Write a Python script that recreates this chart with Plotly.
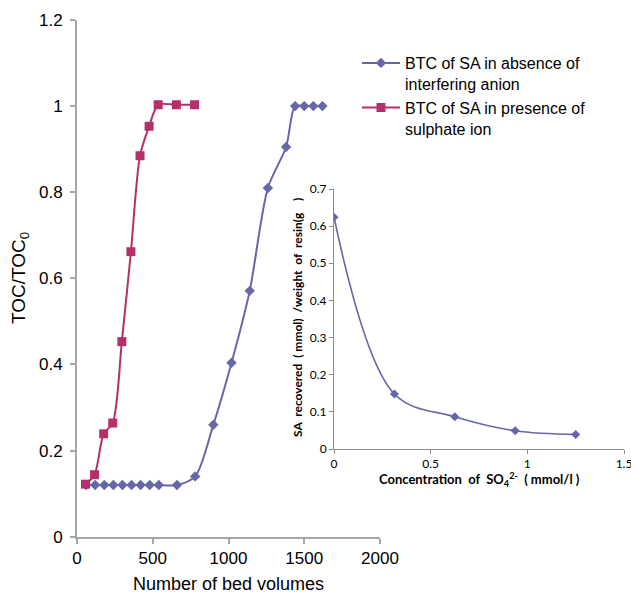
import plotly.graph_objects as go

W, H = 631, 594

# Main chart data
bv_absence = [60, 120, 180, 240, 300, 360, 420, 480, 540, 660, 780, 900, 1020, 1140, 1260, 1380, 1440, 1500, 1560, 1620]
toc_absence = [0.12, 0.12, 0.12, 0.12, 0.12, 0.12, 0.12, 0.12, 0.12, 0.12, 0.14, 0.26, 0.404, 0.571, 0.81, 0.905, 1.0, 1.0, 1.0, 1.0]
bv_presence = [56, 116, 176, 236, 296, 356, 416, 476, 536, 656, 776]
toc_presence = [0.122, 0.144, 0.239, 0.264, 0.453, 0.662, 0.885, 0.953, 1.003, 1.003, 1.003]

# Inset data
conc_so4 = [0, 0.3125, 0.625, 0.9375, 1.25]
sa_recovered = [0.624, 0.148, 0.087, 0.049, 0.039]

PURPLE = "#6667A8"
RED = "#B5306A"
AXIS_GREY = "#A6A6A6"

fig = go.Figure()
fig.add_trace(go.Scatter(
    x=bv_absence, y=toc_absence, mode="lines+markers",
    name="BTC of SA in absence of<br>interfering anion",
    line=dict(color=PURPLE, width=2, shape="spline", smoothing=0.8),
    marker=dict(symbol="diamond", size=8, color=PURPLE),
    xaxis="x", yaxis="y"))
fig.add_trace(go.Scatter(
    x=bv_presence, y=toc_presence, mode="lines+markers",
    name="BTC of SA in presence of<br>sulphate ion",
    line=dict(color=RED, width=2, shape="spline", smoothing=0.8),
    marker=dict(symbol="square", size=9, color=RED),
    xaxis="x", yaxis="y"))
fig.add_trace(go.Scatter(
    x=conc_so4, y=sa_recovered, mode="lines+markers", showlegend=False,
    line=dict(color=PURPLE, width=1.6, shape="spline", smoothing=1),
    marker=dict(symbol="diamond", size=7, color=PURPLE),
    xaxis="x2", yaxis="y2"))

main_font = dict(family="Liberation Sans, Arial, sans-serif", size=17, color="#000")
inset_font = dict(family="Lato, Open Sans, sans-serif", size=12, color="#000")

fig.update_layout(
    width=W, height=H,
    margin=dict(l=0, r=0, t=0, b=0, autoexpand=False),
    paper_bgcolor="white", plot_bgcolor="rgba(0,0,0,0)",
    showlegend=True,
    legend=dict(x=357 / W, y=1 - 46 / H, xanchor="left", yanchor="top",
                font=dict(family="Liberation Sans, Arial, sans-serif", size=16, color="#000"),
                valign="top", tracegroupgap=15, bgcolor="rgba(0,0,0,0)", itemwidth=38),
    xaxis=dict(domain=[77 / W, 380 / W], range=[0, 2000], anchor="y", automargin=False,
               tickvals=[0, 500, 1000, 1500, 2000], showgrid=False, zeroline=False,
               showline=True, linecolor=AXIS_GREY, linewidth=2,
               ticks="outside", ticklen=5, tickcolor=AXIS_GREY, tickwidth=2,
               tickfont=main_font),
    yaxis=dict(domain=[1 - 536.7 / H, 1 - 20 / H], range=[0, 1.2], anchor="x", automargin=False,
               tickvals=[0, 0.2, 0.4, 0.6, 0.8, 1, 1.2],
               ticktext=["0", "0.2", "0.4", "0.6", "0.8", "1", "1.2"],
               showgrid=False, zeroline=False,
               showline=True, linecolor=AXIS_GREY, linewidth=2,
               ticks="outside", ticklen=5, tickcolor=AXIS_GREY, tickwidth=2,
               tickfont=main_font, ticklabelstandoff=4),
    xaxis2=dict(domain=[334 / W, 624 / W], range=[0, 1.5], anchor="y2", automargin=False,
                tickvals=[0, 0.5, 1, 1.5], showgrid=False, zeroline=False,
                showline=True, linecolor="#8C8C8C", linewidth=1,
                ticks="outside", ticklen=4, tickcolor="#8C8C8C",
                tickfont=inset_font, ticklabeloverflow="allow"),
    yaxis2=dict(domain=[1 - 449 / H, 1 - 189 / H], range=[0, 0.7], anchor="x2", automargin=False,
                tickvals=[0, 0.1, 0.2, 0.3, 0.4, 0.5, 0.6, 0.7],
                ticktext=["0", "0.1", "0.2", "0.3", "0.4", "0.5", "0.6", "0.7"],
                showgrid=False, zeroline=False,
                showline=True, linecolor="#8C8C8C", linewidth=1,
                ticks="outside", ticklen=4, tickcolor="#8C8C8C",
                tickfont=inset_font),
    annotations=[
        dict(text="TOC/TOC<sub>0</sub>", x=20 / W, y=1 - 278 / H, xref="paper", yref="paper",
             textangle=-90, showarrow=False, xanchor="center", yanchor="middle",
             font=dict(family="Liberation Sans, Arial, sans-serif", size=19, color="#000")),
        dict(text="Number of bed volumes", x=228 / W, y=1 - 584 / H, xref="paper", yref="paper",
             showarrow=False, xanchor="center", yanchor="middle",
             font=dict(family="Liberation Sans, Arial, sans-serif", size=18, color="#000")),
        dict(text="<b>SA  recovered  ( mmol)  /weight  of  resin(g    )</b>", x=297 / W, y=1 - 318 / H,
             xref="paper", yref="paper", textangle=-90, showarrow=False,
             xanchor="center", yanchor="middle",
             font=dict(family="Lato, Open Sans, sans-serif", size=12, color="#000")),
        dict(text="<b>Concentration  of  SO<sub>4</sub><sup>2-</sup>  ( mmol/l )</b>", x=479 / W, y=1 - 479 / H,
             xref="paper", yref="paper", showarrow=False,
             xanchor="center", yanchor="middle",
             font=dict(family="Lato, Open Sans, sans-serif", size=13, color="#000")),
    ],
)

fig.write_html("out.html")
